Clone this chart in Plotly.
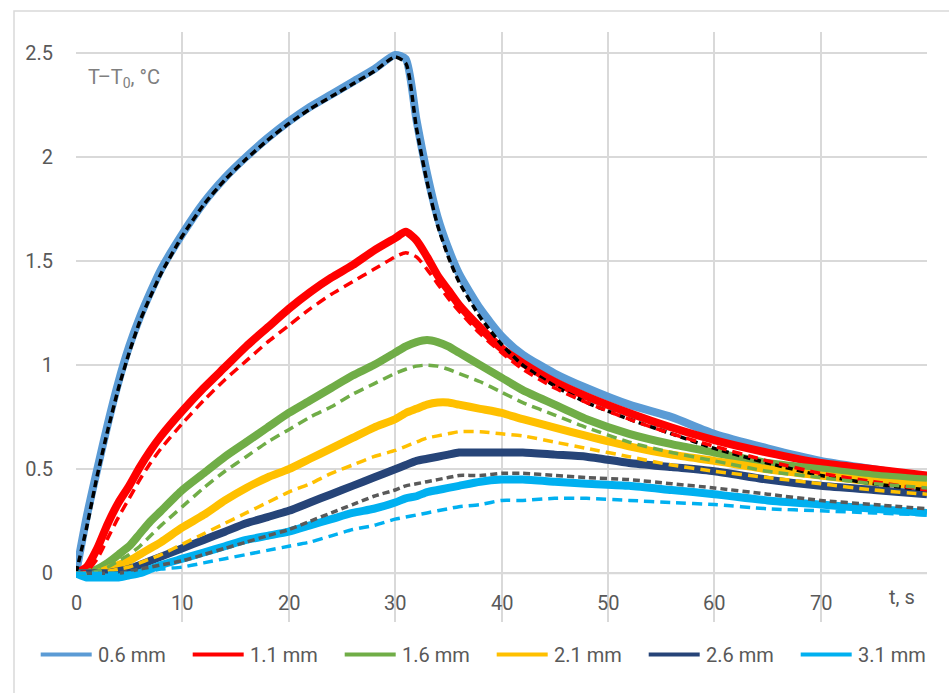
import plotly.graph_objects as go

# ---------------- data ----------------
time_s = [0, 1, 2, 3, 4, 5, 6, 7, 8, 10, 12, 14, 16, 18, 20, 22, 24, 26, 28, 30,
          31, 32, 33, 34, 35, 36, 38, 40, 42, 45, 48, 52, 56, 60, 65, 70, 75, 80]

series_names = ["0.6 mm", "1.1 mm", "1.6 mm", "2.1 mm", "2.6 mm", "3.1 mm"]

exp_06 = [0, 0.27, 0.50, 0.72, 0.92, 1.09, 1.23, 1.35, 1.46, 1.63, 1.78, 1.90, 2.00, 2.09, 2.17, 2.24, 2.30, 2.36, 2.42, 2.49,
          2.47, 2.18, 1.92, 1.71, 1.56, 1.44, 1.27, 1.14, 1.05, 0.96, 0.89, 0.81, 0.75, 0.67, 0.60, 0.54, 0.50, 0.46]
exp_11 = [0, 0.03, 0.12, 0.24, 0.34, 0.42, 0.51, 0.59, 0.66, 0.78, 0.89, 0.99, 1.09, 1.18, 1.27, 1.35, 1.42, 1.48, 1.55, 1.61,
          1.64, 1.60, 1.52, 1.43, 1.36, 1.29, 1.18, 1.08, 1.01, 0.92, 0.85, 0.77, 0.70, 0.64, 0.58, 0.53, 0.50, 0.47]
exp_16 = [0, 0.0, 0.02, 0.05, 0.09, 0.13, 0.19, 0.25, 0.30, 0.40, 0.48, 0.56, 0.63, 0.70, 0.77, 0.83, 0.89, 0.95, 1.00, 1.06,
          1.09, 1.11, 1.12, 1.11, 1.09, 1.06, 1.00, 0.94, 0.88, 0.81, 0.74, 0.67, 0.62, 0.58, 0.53, 0.50, 0.47, 0.45]
exp_21 = [0, 0.0, 0.0, 0.02, 0.04, 0.06, 0.09, 0.12, 0.15, 0.22, 0.28, 0.35, 0.41, 0.46, 0.50, 0.55, 0.60, 0.65, 0.70, 0.74,
          0.77, 0.79, 0.81, 0.82, 0.82, 0.81, 0.79, 0.77, 0.74, 0.70, 0.66, 0.61, 0.57, 0.54, 0.50, 0.47, 0.44, 0.42]
exp_26 = [0, 0.0, 0.0, 0.0, 0.01, 0.02, 0.04, 0.06, 0.08, 0.12, 0.16, 0.20, 0.24, 0.27, 0.30, 0.34, 0.38, 0.42, 0.46, 0.50,
          0.52, 0.54, 0.55, 0.56, 0.57, 0.58, 0.58, 0.58, 0.58, 0.57, 0.56, 0.53, 0.51, 0.49, 0.45, 0.42, 0.40, 0.38]
exp_31 = [0, -0.02, -0.02, -0.02, -0.02, -0.01, 0.0, 0.02, 0.04, 0.07, 0.10, 0.13, 0.16, 0.18, 0.20, 0.23, 0.26, 0.29, 0.31, 0.34,
          0.36, 0.37, 0.39, 0.40, 0.41, 0.42, 0.44, 0.45, 0.45, 0.44, 0.43, 0.42, 0.40, 0.38, 0.35, 0.33, 0.31, 0.29]

mod_06 = [0, 0.22, 0.47, 0.69, 0.89, 1.06, 1.21, 1.33, 1.44, 1.62, 1.77, 1.89, 1.99, 2.08, 2.16, 2.23, 2.29, 2.35, 2.41, 2.48,
          2.45, 2.14, 1.88, 1.67, 1.52, 1.40, 1.23, 1.10, 1.00, 0.90, 0.82, 0.74, 0.67, 0.60, 0.53, 0.47, 0.43, 0.40]
mod_11 = [0, 0.01, 0.07, 0.17, 0.27, 0.36, 0.45, 0.53, 0.60, 0.72, 0.83, 0.93, 1.02, 1.11, 1.19, 1.27, 1.34, 1.40, 1.46, 1.52,
          1.54, 1.52, 1.46, 1.39, 1.32, 1.26, 1.15, 1.06, 0.98, 0.89, 0.82, 0.74, 0.67, 0.61, 0.54, 0.48, 0.44, 0.40]
mod_16 = [0, 0.0, 0.01, 0.03, 0.06, 0.09, 0.13, 0.18, 0.23, 0.32, 0.41, 0.49, 0.56, 0.63, 0.69, 0.75, 0.80, 0.86, 0.91, 0.96,
          0.98, 0.995, 1.0, 0.995, 0.98, 0.96, 0.92, 0.87, 0.82, 0.76, 0.70, 0.63, 0.58, 0.54, 0.49, 0.46, 0.43, 0.41]
mod_21 = [0, 0.0, 0.0, 0.01, 0.02, 0.03, 0.05, 0.07, 0.09, 0.14, 0.19, 0.24, 0.29, 0.34, 0.39, 0.43, 0.48, 0.52, 0.56, 0.59,
          0.61, 0.63, 0.65, 0.66, 0.67, 0.68, 0.68, 0.67, 0.66, 0.63, 0.60, 0.56, 0.52, 0.49, 0.46, 0.43, 0.40, 0.38]
mod_26 = [0, 0.0, 0.0, 0.0, 0.0, 0.01, 0.02, 0.03, 0.04, 0.06, 0.09, 0.12, 0.15, 0.18, 0.21, 0.25, 0.29, 0.33, 0.37, 0.40,
          0.42, 0.43, 0.44, 0.45, 0.46, 0.47, 0.47, 0.48, 0.48, 0.47, 0.46, 0.45, 0.43, 0.41, 0.38, 0.35, 0.33, 0.31]
mod_31 = [0, 0.0, 0.0, 0.0, 0.0, 0.0, 0.0, 0.01, 0.02, 0.03, 0.05, 0.07, 0.09, 0.11, 0.13, 0.15, 0.18, 0.21, 0.23, 0.26,
          0.27, 0.28, 0.29, 0.30, 0.31, 0.32, 0.33, 0.35, 0.35, 0.36, 0.36, 0.35, 0.34, 0.33, 0.31, 0.30, 0.29, 0.28]

x_ticks = [0, 10, 20, 30, 40, 50, 60, 70]
y_ticks = [0, 0.5, 1, 1.5, 2, 2.5]
y_tick_labels = ["0", "0.5", "1", "1.5", "2", "2.5"]

exp_colors = ["#5B9BD5", "#FF0000", "#70AD47", "#FFC000", "#264478", "#00B0F0"]
mod_colors = ["#000000", "#FF0000", "#70AD47", "#FFC000", "#595959", "#00B0F0"]

exp_data = [exp_06, exp_11, exp_16, exp_21, exp_26, exp_31]
mod_data = [mod_06, mod_11, mod_16, mod_21, mod_26, mod_31]

# ---------------- figure ----------------
FONT = "Roboto, Arial, sans-serif"
TXT = "#595959"
GRID = "#D9D9D9"

fig = go.Figure()
for name, ys, col in zip(series_names, exp_data, exp_colors):
    fig.add_trace(go.Scatter(x=time_s, y=ys, mode="lines", name=name,
                             line=dict(color=col, width=8, shape="spline", smoothing=0.6),
                             showlegend=False))
for name, ys, col in zip(series_names, mod_data, mod_colors):
    dash = "7px,4px" if col in ("#000000", "#595959") else "10px,6px"
    fig.add_trace(go.Scatter(x=time_s, y=ys, mode="lines", name=name + " model",
                             line=dict(color=col, width=3.5, dash=dash, shape="spline", smoothing=0.6),
                             showlegend=False))

W, H = 949, 693
L, R, T, B = 76, 22, 32, 71
pw, ph = W - L - R, H - T - B


def px(xp):
    return (xp - L) / pw


def py(yp):
    return (H - B - yp) / ph


shapes = []
annotations = []

# outer chart border
shapes.append(dict(type="rect", xref="paper", yref="paper", x0=px(14), x1=px(990), y0=py(11), y1=py(740),
                   line=dict(color=GRID, width=1.5), fillcolor="rgba(0,0,0,0)", layer="below"))

# horizontal axis line at y = 0
shapes.append(dict(type="line", xref="paper", yref="y", x0=0, x1=1, y0=0, y1=0,
                   line=dict(color=GRID, width=2), layer="below"))

# x tick labels placed inside the plot, below the axis line
for xv in x_ticks:
    annotations.append(dict(x=xv, y=-0.143, xref="x", yref="y", text=str(xv), showarrow=False,
                            font=dict(family=FONT, size=20, color=TXT), xanchor="center", yanchor="middle"))
annotations.append(dict(x=px(917), y=py(597), xref="paper", yref="paper", text="t, s", showarrow=False,
                        font=dict(family=FONT, size=20, color=TXT), xanchor="right", yanchor="middle"))
annotations.append(dict(x=px(86), y=py(78), xref="paper", yref="paper", text="T–T<sub>0</sub>, °C",
                        showarrow=False, font=dict(family=FONT, size=20, color="#7F7F7F"),
                        xanchor="left", yanchor="middle"))

# legend (drawn manually)
for i, (name, col) in enumerate(zip(series_names, exp_colors)):
    x0 = 40.7 + 152 * i
    shapes.append(dict(type="line", xref="paper", yref="paper", x0=px(x0), x1=px(x0 + 51), y0=py(654.5), y1=py(654.5),
                       line=dict(color=col, width=4)))
    annotations.append(dict(x=px(x0 + 55), y=py(655), xref="paper", yref="paper", text=name, showarrow=False,
                            font=dict(family=FONT, size=20, color=TXT), xanchor="left", yanchor="middle"))

fig.update_layout(
    width=W, height=H,
    margin=dict(l=L, r=R, t=T, b=B, pad=0, autoexpand=False),
    paper_bgcolor="white", plot_bgcolor="white",
    font=dict(family=FONT, size=20, color=TXT),
    showlegend=False,
    shapes=shapes, annotations=annotations,
    xaxis=dict(range=[0, 80], tickvals=x_ticks, showticklabels=False, showgrid=True, gridcolor=GRID,
               gridwidth=2, zeroline=False, showline=False, ticks="", automargin=False),
    yaxis=dict(range=[-0.234, 2.6], tickvals=y_ticks, ticktext=y_tick_labels, showgrid=True, gridcolor=GRID,
               gridwidth=2, zeroline=False, showline=False, ticks="", ticklabelstandoff=22, automargin=False,
               tickfont=dict(family=FONT, size=20, color=TXT)),
)

fig.write_html("out.html", config={"displayModeBar": False},
               post_script="document.body.style.margin='0';document.body.style.overflow='hidden';")
